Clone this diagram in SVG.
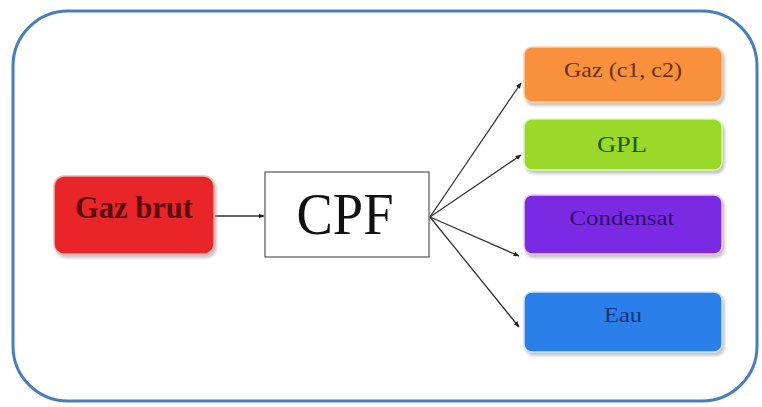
<svg xmlns="http://www.w3.org/2000/svg" width="762" height="407" viewBox="0 0 762 407">
<style>
.lbl{font-family:"Liberation Serif","Times New Roman",serif;text-anchor:middle}
.box{filter:url(#sh)}
.con{stroke:#333;stroke-width:1.3;fill:none;marker-end:url(#ah)}
</style>
<defs>
<filter id="sh" x="-10%" y="-20%" width="125%" height="150%">
<feDropShadow dx="2" dy="3" stdDeviation="1.5" flood-color="#999" flood-opacity="0.6"/>
</filter>
<marker id="ah" viewBox="0 0 10 10" refX="9" refY="5" markerWidth="6" markerHeight="6" orient="auto" markerUnits="userSpaceOnUse">
<path d="M0,1 L10,5 L0,9 z" fill="#222"/>
</marker>
</defs>
<rect width="762" height="407" fill="#fff"/>
<rect x="13" y="11" width="744" height="390" rx="55" ry="55" fill="#fff" stroke="#4a7ebb" stroke-width="3"/>
<g id="connectors">
<line class="con" x1="215" y1="216" x2="264" y2="216"/>
<line class="con" x1="430" y1="217" x2="521" y2="83"/>
<line class="con" x1="430" y1="217" x2="521" y2="155"/>
<line class="con" x1="430" y1="217" x2="519" y2="256"/>
<line class="con" x1="430" y1="217" x2="519" y2="327"/>
</g>
<g id="gaz-brut">
<rect class="box" x="54" y="176" width="160" height="78" rx="10" fill="#e8282a" stroke="#f7b4b0" stroke-width="1.5"/>
<text class="lbl" x="134" y="218" font-size="31" font-weight="bold" fill="#5a0a0a" textLength="118" lengthAdjust="spacingAndGlyphs">Gaz brut</text>
</g>
<g id="cpf">
<rect x="265" y="172" width="164" height="85" fill="#fff" stroke="#555" stroke-width="1.2"/>
<text class="lbl" x="345" y="234" font-size="60" fill="#111" textLength="97" lengthAdjust="spacingAndGlyphs">CPF</text>
</g>
<g id="gaz-c1c2">
<rect class="box" x="524" y="47" width="198" height="55" rx="8" fill="#f7913e" stroke="#fbd2b0" stroke-width="1.5"/>
<text class="lbl" x="623" y="77" font-size="22" fill="#6b2e0c" textLength="118" lengthAdjust="spacingAndGlyphs">Gaz (c1, c2)</text>
</g>
<g id="gpl">
<rect class="box" x="524" y="119" width="198" height="51" rx="8" fill="#9ad82c" stroke="#e0f5b8" stroke-width="1.5"/>
<text class="lbl" x="622" y="152" font-size="23" fill="#1f5a10" textLength="50" lengthAdjust="spacingAndGlyphs">GPL</text>
</g>
<g id="condensat">
<rect class="box" x="524" y="195" width="198" height="59" rx="8" fill="#7a2ce2" stroke="#f0c8f5" stroke-width="1.5"/>
<text class="lbl" x="622" y="225" font-size="22" fill="#2e0f70" textLength="105" lengthAdjust="spacingAndGlyphs">Condensat</text>
</g>
<g id="eau">
<rect class="box" x="524" y="292" width="198" height="60" rx="8" fill="#2a7fe8" stroke="#c6e6fa" stroke-width="1.5"/>
<text class="lbl" x="623" y="322" font-size="22" fill="#17337e" textLength="38" lengthAdjust="spacingAndGlyphs">Eau</text>
</g>
</svg>
